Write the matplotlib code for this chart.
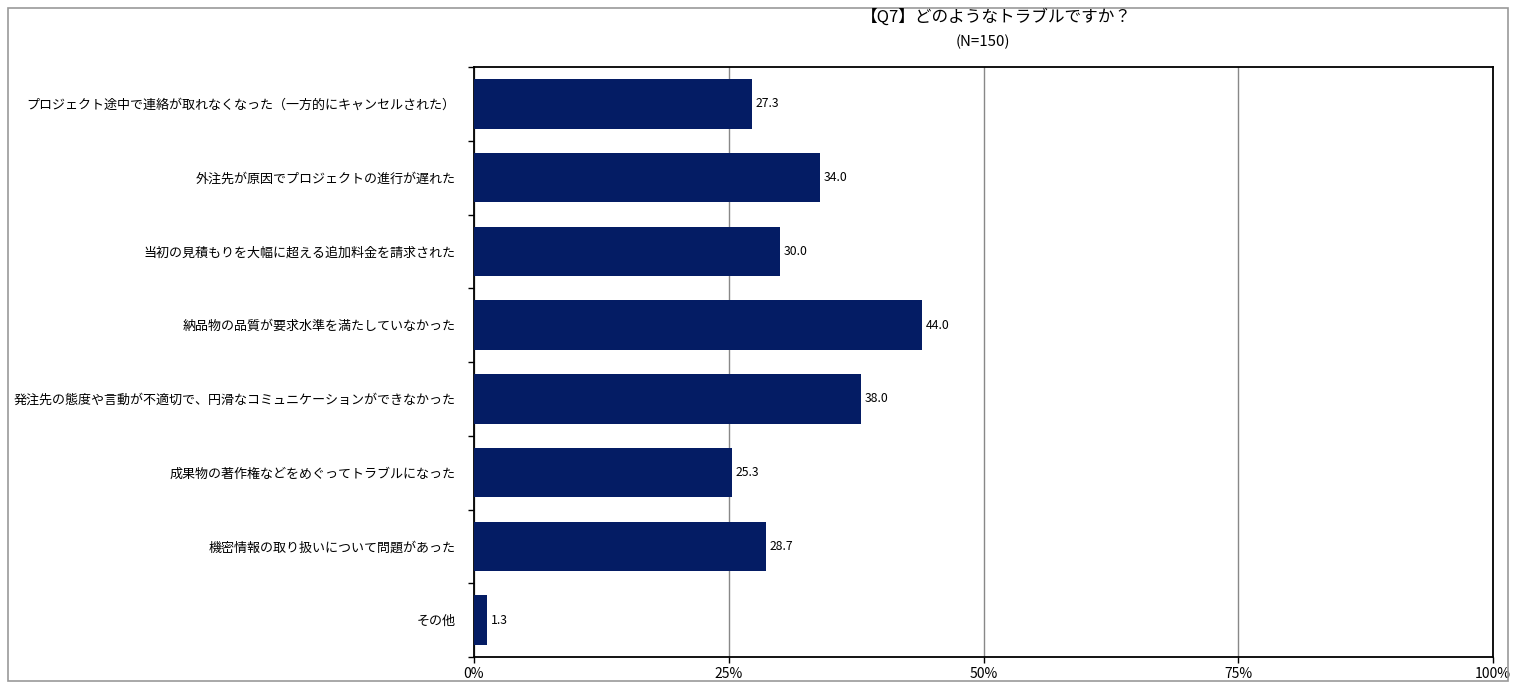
import matplotlib.pyplot as plt
from matplotlib.patches import Rectangle
from matplotlib.ticker import FixedLocator

plt.rcParams['font.family'] = ['Noto Sans CJK JP', 'DejaVu Sans']

# データ
categories = [
    'プロジェクト途中で連絡が取れなくなった（一方的にキャンセルされた）',
    '外注先が原因でプロジェクトの進行が遅れた',
    '当初の見積もりを大幅に超える追加料金を請求された',
    '納品物の品質が要求水準を満たしていなかった',
    '発注先の態度や言動が不適切で、円滑なコミュニケーションができなかった',
    '成果物の著作権などをめぐってトラブルになった',
    '機密情報の取り扱いについて問題があった',
    'その他',
]
values = [27.3, 34.0, 30.0, 44.0, 38.0, 25.3, 28.7, 1.3]
xticks = [0, 25, 50, 75, 100]
xtick_labels = ['0%', '25%', '50%', '75%', '100%']

W, H = 1518, 696
fig = plt.figure(figsize=(W / 100, H / 100), dpi=100)
ax = fig.add_axes([474 / W, 1 - 657 / H, (1493 - 474) / W, (657 - 67) / H])

y = list(range(len(categories)))
ax.barh(y, values, height=0.67, color='#041C64', zorder=3)
for yi, v in zip(y, values):
    ax.text(v + 0.35, yi, f'{v:.1f}', va='center', ha='left', fontsize=8.8, zorder=4)

ax.set_xlim(0, 100)
ax.set_ylim(len(categories) - 0.5, -0.5)
ax.set_xticks(xticks)
ax.set_xticklabels(xtick_labels, fontsize=10)
ax.set_yticks(y)
ax.set_yticklabels(categories, fontsize=9.4)
ax.tick_params(axis='y', length=0, pad=13.5)
ax.yaxis.set_minor_locator(FixedLocator([i + 0.5 for i in range(-1, len(categories))]))
ax.tick_params(axis='y', which='minor', length=4, width=1, direction='out')
ax.tick_params(axis='x', length=4, width=1, direction='out', pad=3)

ax.grid(axis='x', color='#888888', linewidth=1, zorder=0)
for s in ax.spines.values():
    s.set_linewidth(1.3)
    s.set_color('black')

fig.text(996 / W, 1 - 17 / H, '【Q7】どのようなトラブルですか？', ha='center', va='center', fontsize=12)
fig.text(983 / W, 1 - 42 / H, '(N=150)', ha='center', va='center', fontsize=10.8)

# 外枠
fig.add_artist(Rectangle((8 / W, 1 - 681 / H), 1500 / W, 673 / H, transform=fig.transFigure,
                         fill=False, edgecolor='#999999', linewidth=1.2))

fig.savefig('out.png', dpi=100)
